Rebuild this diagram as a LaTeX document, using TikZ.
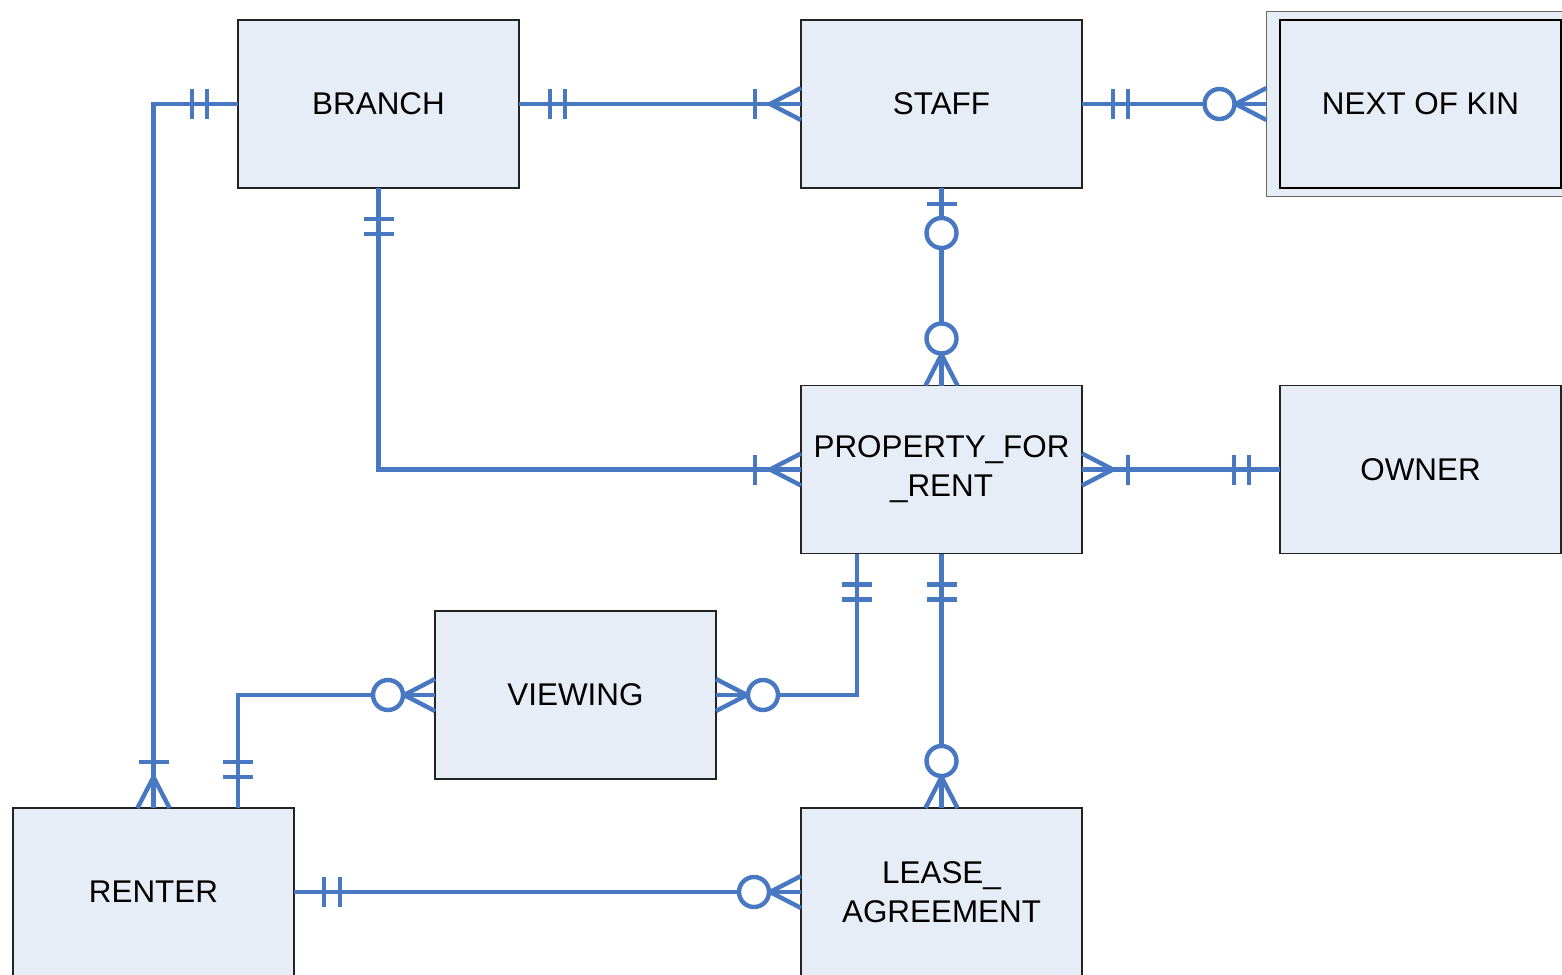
\documentclass[tikz,border=0pt]{standalone}
\usepackage{fontspec}
\setmainfont{Liberation Sans}
\usetikzlibrary{calc}
\definecolor{erblue}{RGB}{72,120,193}
\definecolor{entfill}{RGB}{231,237,247}
\definecolor{entedge}{RGB}{35,35,35}
\begin{document}
\begin{tikzpicture}[x=0.5pt,y=-0.5pt,
  entity/.style={draw=entedge, line width=0.7pt, fill=entfill,
    minimum width=140.5pt, minimum height=84pt, inner sep=0pt, outer sep=0pt,
    align=center, font=\fontsize{15.7}{19.5}\selectfont},
  erline/.style={draw=erblue, line width=2.2pt},
  pics/bar/.style={code={\draw[erline] (#1,-15) -- (#1,15);}},
  pics/ring/.style={code={\draw[erline, fill=white] (#1,0) circle[radius=15];}},
  pics/crow/.style={code={\draw[erline, line join=miter] (0,-16) -- (#1,0) -- (0,16);}}]
\path[use as bounding box] (0,0) rectangle (1562,974);
\clip (0,0) rectangle (1562,974);

% entities
\node[entity] (branch) at (378.5,104) {BRANCH};
\node[entity] (staff) at (941.5,104) {STAFF};
\node[entity, draw=black!60, minimum width=167pt, minimum height=92.5pt] (nokouter) at (1433.5,104) {};
\node[entity, draw=black] (nok) at (1420.5,104) {NEXT OF KIN};
\node[entity] (pfr) at (941.5,469.5) {PROPERTY\_FOR\\\_RENT};
\node[entity] (owner) at (1420.5,469.5) {OWNER};
\node[entity] (viewing) at (575.5,695) {VIEWING};
\node[entity] (renter) at (153.5,892) {RENTER};
\node[entity] (lease) at (941.5,892) {LEASE\_\\AGREEMENT};

% connector ends that are not on a centre anchor
\coordinate (pfrview) at ($(pfr.south west)+(56,0)$);
\coordinate (rentview) at ($(renter.north west)+(225,0)$);

% relationship lines
\draw[erline] (branch.west) -| (renter.north);
\draw[erline] (branch.east) -- (staff.west);
\draw[erline] (staff.east) -- (nokouter.west);
\draw[erline] (staff.south) -- (pfr.north);
\draw[erline] (branch.south) |- (pfr.west);
\draw[erline] (pfr.east) -- (owner.west);
\draw[erline] (pfrview) |- (viewing.east);
\draw[erline] (pfr.south) -- (lease.north);
\draw[erline] (rentview) |- (viewing.west);
\draw[erline] (renter.east) -- (lease.west);

% cardinality marks
% BRANCH -- RENTER
\pic[rotate=180] at (branch.west) {bar=31};
\pic[rotate=180] at (branch.west) {bar=46};
\pic[rotate=90] at (renter.north) {crow=31};
\pic[rotate=90] at (renter.north) {bar=46};
% BRANCH -- STAFF
\pic at (branch.east) {bar=31};
\pic at (branch.east) {bar=46};
\pic[rotate=180] at (staff.west) {crow=31};
\pic[rotate=180] at (staff.west) {bar=46};
% STAFF -- NEXT OF KIN
\pic at (staff.east) {bar=31};
\pic at (staff.east) {bar=46};
\pic[rotate=180] at (nokouter.west) {crow=31};
\pic[rotate=180] at (nokouter.west) {ring=47};
% STAFF -- PROPERTY_FOR_RENT
\pic[rotate=-90] at (staff.south) {bar=16};
\pic[rotate=-90] at (staff.south) {ring=45};
\pic[rotate=90] at (pfr.north) {crow=31};
\pic[rotate=90] at (pfr.north) {ring=47};
% BRANCH -- PROPERTY_FOR_RENT
\pic[rotate=-90] at (branch.south) {bar=31};
\pic[rotate=-90] at (branch.south) {bar=46};
\pic[rotate=180] at (pfr.west) {crow=31};
\pic[rotate=180] at (pfr.west) {bar=46};
% PROPERTY_FOR_RENT -- OWNER
\pic at (pfr.east) {crow=31};
\pic at (pfr.east) {bar=46};
\pic[rotate=180] at (owner.west) {bar=31};
\pic[rotate=180] at (owner.west) {bar=46};
% PROPERTY_FOR_RENT -- VIEWING
\pic[rotate=-90] at (pfrview) {bar=31};
\pic[rotate=-90] at (pfrview) {bar=46};
\pic at (viewing.east) {crow=31};
\pic at (viewing.east) {ring=47};
% PROPERTY_FOR_RENT -- LEASE_AGREEMENT
\pic[rotate=-90] at (pfr.south) {bar=31};
\pic[rotate=-90] at (pfr.south) {bar=46};
\pic[rotate=90] at (lease.north) {crow=31};
\pic[rotate=90] at (lease.north) {ring=47};
% RENTER -- VIEWING
\pic[rotate=90] at (rentview) {bar=31};
\pic[rotate=90] at (rentview) {bar=46};
\pic[rotate=180] at (viewing.west) {crow=31};
\pic[rotate=180] at (viewing.west) {ring=47};
% RENTER -- LEASE_AGREEMENT
\pic at (renter.east) {bar=30};
\pic at (renter.east) {bar=46};
\pic[rotate=180] at (lease.west) {crow=31};
\pic[rotate=180] at (lease.west) {ring=47};
\end{tikzpicture}
\end{document}
